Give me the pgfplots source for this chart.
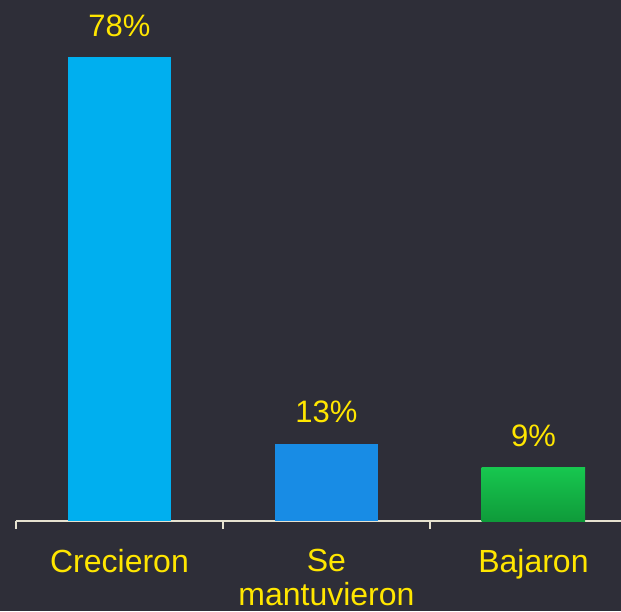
\documentclass[border=0pt]{standalone}
\usepackage{pgfplots}
\pgfplotsset{compat=1.18}
\usepackage{fontspec}
\setmainfont{Liberation Sans}
\definecolor{bg}{HTML}{2E2E38}
\definecolor{eyyellow}{HTML}{FFE600}
\definecolor{barcyan}{HTML}{00AFEF}
\definecolor{barblue}{HTML}{188CE5}
\definecolor{greentop}{HTML}{17C74F}
\definecolor{greenbot}{HTML}{0F9B3A}
\definecolor{axiscol}{HTML}{E6E2D0}

\begin{document}
\begin{tikzpicture}[x=1pt,y=1pt]
\fill[bg] (-16,-90) rectangle (605,521);
\useasboundingbox (-16,-90) rectangle (605,521);
\begin{axis}[
    at={(0,0)}, anchor=south west,
    scale only axis,
    width=605pt, height=521pt,
    xmin=-0.5, xmax=2.423,
    ymin=0, ymax=87.58,
    clip=false,
    hide y axis,
    axis x line*=bottom,
    x axis line style={axiscol, line width=2pt},
    ybar, bar width=0.5, bar shift=0pt,
    xtick={0,1,2},
    xticklabels={Crecieron, Se\\mantuvieron, Bajaron},
    major tick length=0pt,
    minor xtick={-0.5,0.5,1.5},
    minor tick length=8pt,
    tick align=outside,
    minor tick style={axiscol, line width=1.5pt},
    xticklabel style={align=center, text=eyyellow, inner sep=0pt,
        font=\fontsize{32}{34}\selectfont, yshift=-28pt},
    /pgf/number format/assume math mode=true,
    nodes near coords={\pgfmathprintnumber{\pgfplotspointmeta}\%},
    every node near coord/.append style={text=eyyellow,
        font=\fontsize{31}{36}\selectfont, yshift=17pt},
]
\addplot[draw=none, fill=barcyan] coordinates {(0,78)};
\addplot[draw=none, fill=barblue] coordinates {(1,13)};
\addplot[draw=none, top color=greentop, bottom color=greenbot] coordinates {(2,9)};
\end{axis}
\end{tikzpicture}
\end{document}
